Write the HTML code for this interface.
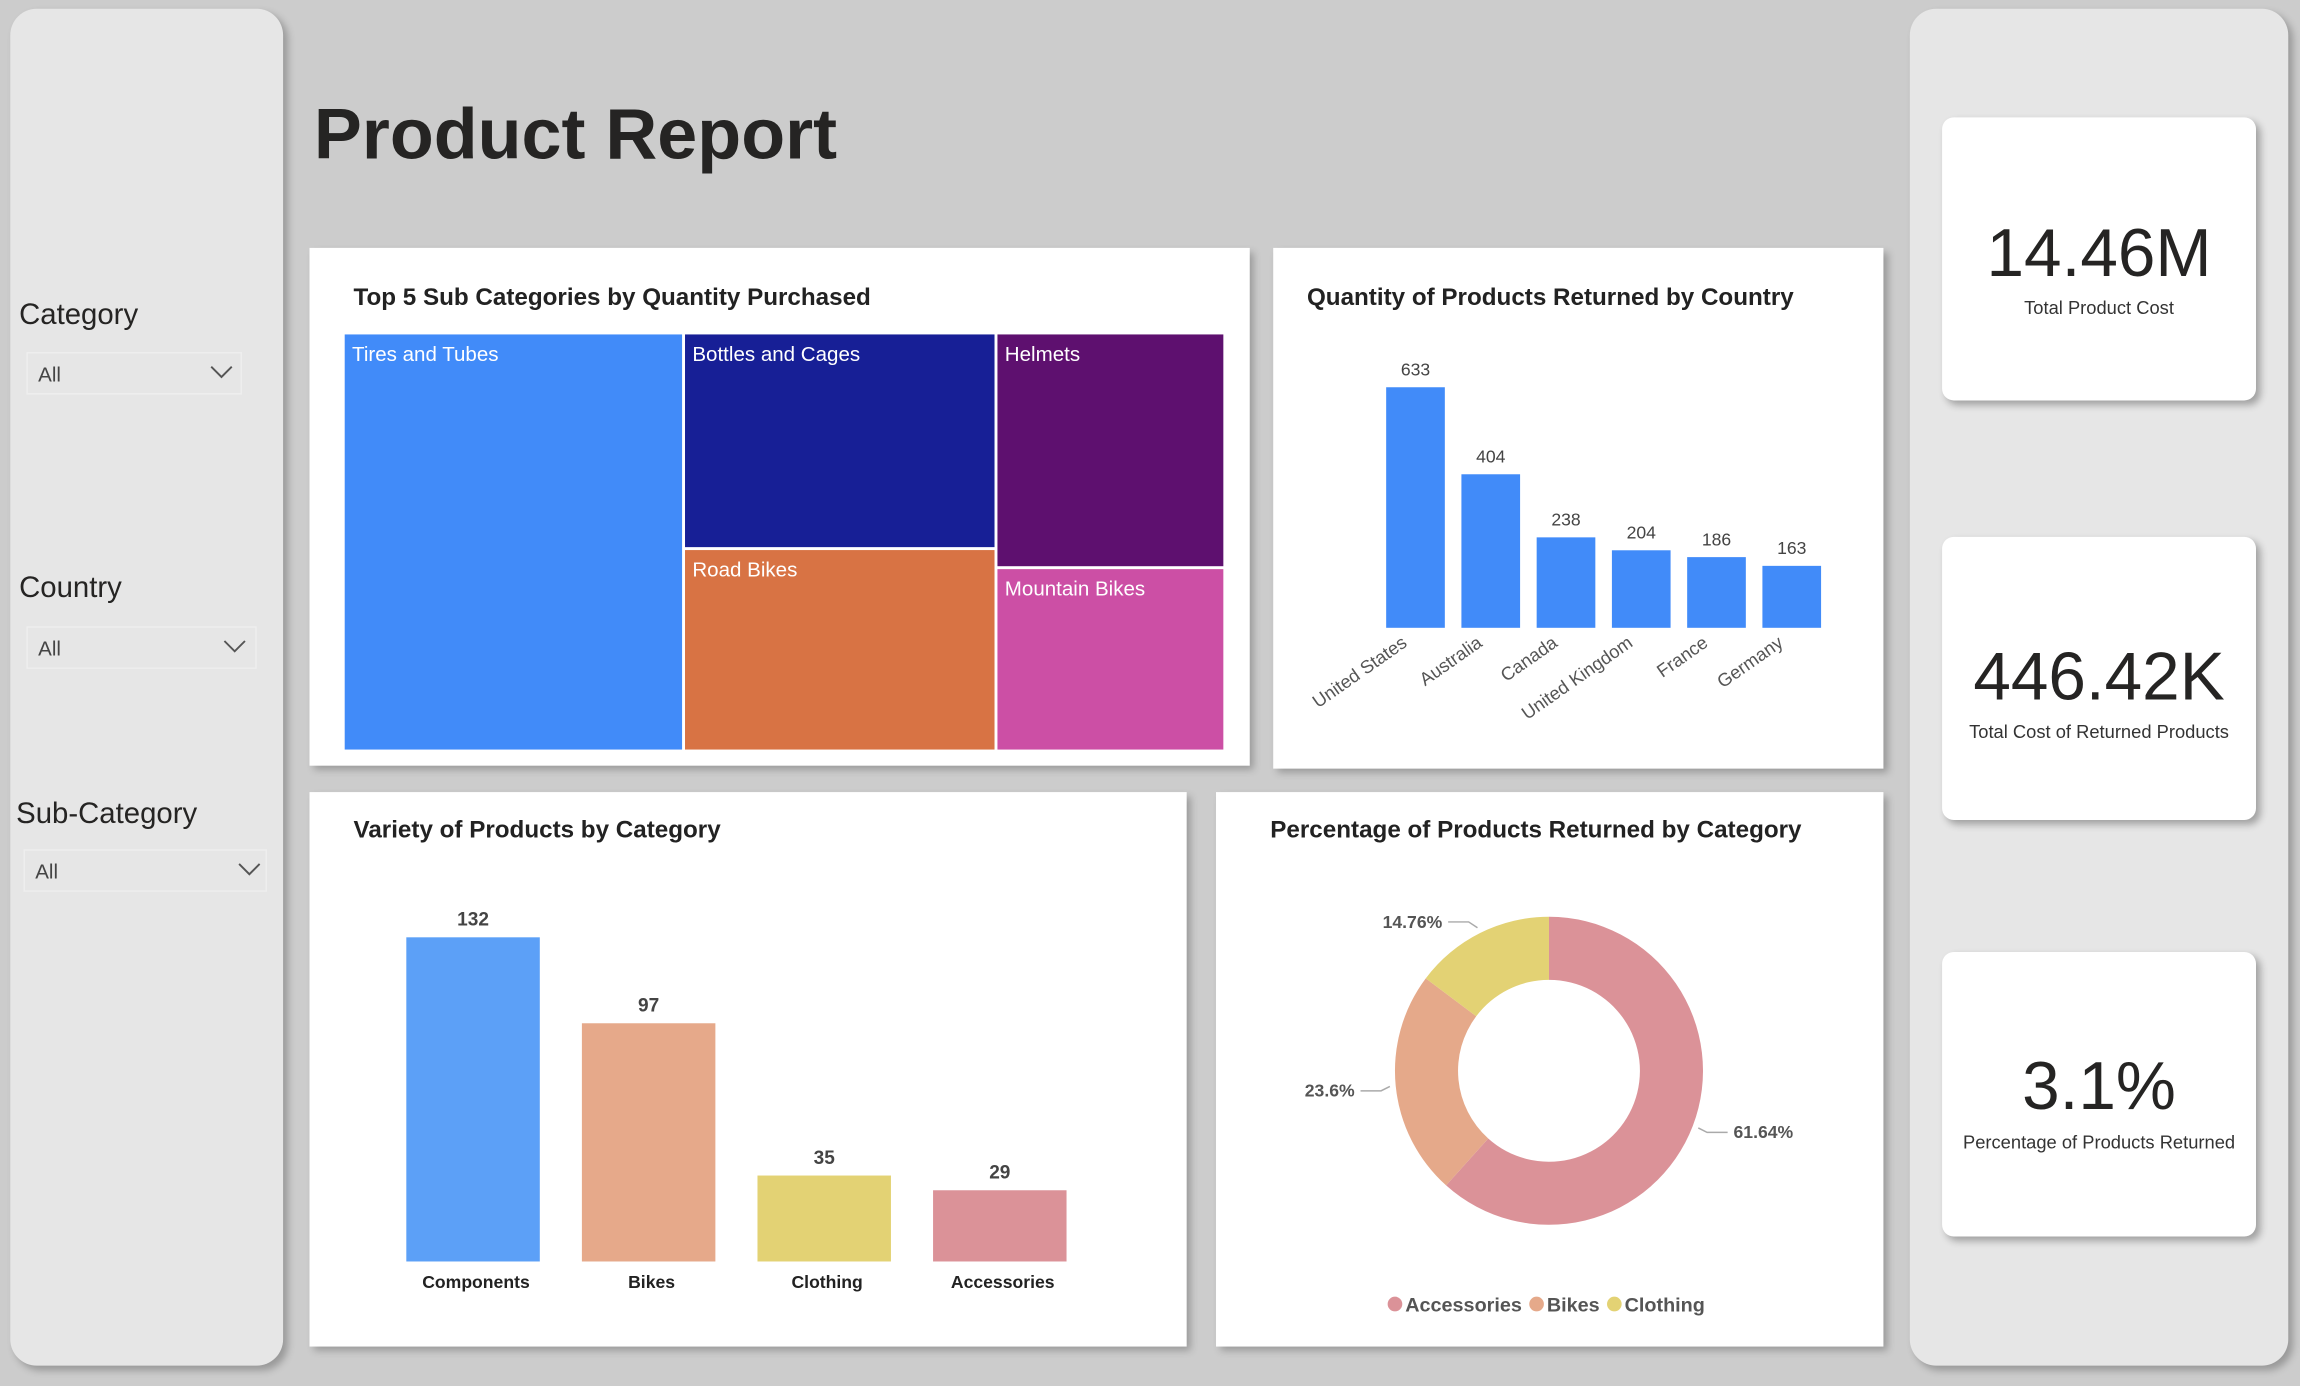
<!DOCTYPE html>
<html><head><meta charset="utf-8">
<style>
html,body{margin:0;padding:0;width:2300px;height:1386px;overflow:hidden;background:#cccccc;}
#root{position:absolute;left:0;top:0;width:1568px;height:945px;transform:scale(1.46684);transform-origin:0 0;font-family:"Liberation Sans",sans-serif;color:#252423;}
.abs{position:absolute;}
.panel{position:absolute;background:#e6e6e6;border-radius:18px;box-shadow:3px 3px 5px rgba(0,0,0,0.25);}
.card{position:absolute;background:#fff;box-shadow:3px 3px 5px rgba(0,0,0,0.25);}
.kpi{position:absolute;background:#fff;border-radius:8px;box-shadow:3px 3px 5px rgba(0,0,0,0.3);text-align:center;}
.kpi .v{position:absolute;left:0;right:0;font-size:46px;color:#252423;}
.kpi .l{position:absolute;left:0;right:0;font-size:12.5px;color:#333;}
.ctitle{position:absolute;font-weight:bold;font-size:16.5px;color:#222;}
.slab{position:absolute;font-size:20px;color:#252423;}
.dd{position:absolute;border:1px solid #eeeeee;background:#e6e6e6;font-size:14px;color:#444;}
.dd span{position:absolute;left:7px;top:6px;}
.dd svg{position:absolute;top:8px;}
.tm{position:absolute;color:#fff;font-size:14px;box-sizing:border-box;padding:5px 0 0 5px;}
</style></head>
<body>
<div id="root">
  <div class="panel" style="left:7px;top:6px;width:186px;height:925px;"></div>
  <div class="panel" style="left:1302px;top:6px;width:258px;height:925px;"></div>

  <div class="slab" style="left:13px;top:204px;">Category</div>
  <div class="dd" style="left:18px;top:240px;width:145px;height:27px;"><span>All</span><svg style="left:124px" width="16" height="10" viewBox="0 0 16 10"><polyline points="1,1 8,8 15,1" fill="none" stroke="#555" stroke-width="1.3"/></svg></div>
  <div class="slab" style="left:13px;top:390px;">Country</div>
  <div class="dd" style="left:18px;top:427px;width:155px;height:27px;"><span>All</span><svg style="left:133px" width="16" height="10" viewBox="0 0 16 10"><polyline points="1,1 8,8 15,1" fill="none" stroke="#555" stroke-width="1.3"/></svg></div>
  <div class="slab" style="left:11px;top:544px;">Sub-Category</div>
  <div class="dd" style="left:16px;top:579px;width:164px;height:27px;"><span>All</span><svg style="left:145px" width="16" height="10" viewBox="0 0 16 10"><polyline points="1,1 8,8 15,1" fill="none" stroke="#555" stroke-width="1.3"/></svg></div>

  <div class="abs" style="left:214px;top:64px;font-size:49px;font-weight:bold;color:#252423;">Product Report</div>

  <div class="card" style="left:211px;top:169px;width:641px;height:353px;"></div>
  <div class="ctitle" style="left:241px;top:194px;">Top 5 Sub Categories by Quantity Purchased</div>
  <div class="tm" style="left:235px;top:228px;width:230px;height:283px;background:#418bf9;">Tires and Tubes</div>
  <div class="tm" style="left:467px;top:228px;width:211px;height:145px;background:#171f96;">Bottles and Cages</div>
  <div class="tm" style="left:467px;top:375px;width:211px;height:136px;background:#d87344;">Road Bikes</div>
  <div class="tm" style="left:680px;top:228px;width:154px;height:158px;background:#5e106f;">Helmets</div>
  <div class="tm" style="left:680px;top:388px;width:154px;height:123px;background:#cc4fa5;">Mountain Bikes</div>

  <div class="card" style="left:868px;top:169px;width:416px;height:355px;"></div>
  <div class="ctitle" style="left:891px;top:194px;">Quantity of Products Returned by Country</div>
  <svg id="countrySvg" class="abs" style="left:0;top:0;" width="1568" height="945"></svg>

  <div class="card" style="left:211px;top:540px;width:598px;height:378px;"></div>
  <div class="ctitle" style="left:241px;top:557px;">Variety of Products by Category</div>
  <svg id="varietySvg" class="abs" style="left:0;top:0;" width="1568" height="945"></svg>

  <div class="card" style="left:829px;top:540px;width:455px;height:378px;"></div>
  <div class="ctitle" style="left:866px;top:557px;">Percentage of Products Returned by Category</div>
  <svg id="donutSvg" class="abs" style="left:0;top:0;" width="1568" height="945"></svg>

  <div class="kpi" style="left:1324px;top:80px;width:214px;height:193px;"><div class="v" style="top:65px;">14.46M</div><div class="l" style="top:123px;">Total Product Cost</div></div>
  <div class="kpi" style="left:1324px;top:366px;width:214px;height:193px;"><div class="v" style="top:68px;">446.42K</div><div class="l" style="top:126px;">Total Cost of Returned Products</div></div>
  <div class="kpi" style="left:1324px;top:649px;width:214px;height:194px;"><div class="v" style="top:64px;">3.1%</div><div class="l" style="top:123px;">Percentage of Products Returned</div></div>
</div>
<script>
const NS="http://www.w3.org/2000/svg";
function mk(parent,tag,attrs,text){const e=document.createElementNS(NS,tag);for(const k in attrs)e.setAttribute(k,attrs[k]);if(text!==undefined)e.textContent=text;parent.appendChild(e);return e;}

const countries=["United States","Australia","Canada","United Kingdom","France","Germany"];
const returnedQty=[633,404,238,204,186,163];

const categories=["Components","Bikes","Clothing","Accessories"];
const varietyCounts=[132,97,35,29];

const donutCats=["Accessories","Bikes","Clothing"];
const donutPct=[61.64,23.6,14.76];

(function(){
  const svg=document.getElementById('countrySvg');
  const base=428, x0=945, step=51.3, bw=40, maxH=164, maxV=633;
  const y=v=>base-v/maxV*maxH;
  returnedQty.forEach((v,i)=>{
    const x=x0+i*step;
    const r=mk(svg,'rect',{x:x,y:y(v),width:bw,height:base-y(v),fill:'#418bf9'});
    
    
    const t=mk(svg,'text',{x:x+bw/2,y:y(v)-8,'text-anchor':'middle','font-size':12,fill:'#444','font-family':'Liberation Sans'},String(v));
    
    
    const cx=x+bw/2-5, cy=base+12;
    const l=mk(svg,'text',{x:cx,y:cy,'text-anchor':'end','font-size':12.5,fill:'#555','font-family':'Liberation Sans',transform:`rotate(-35 ${cx} ${cy})`},countries[i]);
    
    
  });
})();

(function(){
  const svg=document.getElementById('varietySvg');
  const base=860, x0=277, step=119.7, bw=91, maxH=221, maxV=132;
  const colors=['#5ca0f7','#e6a98a','#e3d274','#db9298'];
  const y=v=>base-v/maxV*maxH;
  varietyCounts.forEach((v,i)=>{
    const x=x0+i*step;
    const r=mk(svg,'rect',{x:x,y:y(v),width:bw,height:base-y(v),fill:colors[i]});
    
    
    const t=mk(svg,'text',{x:x+bw/2,y:y(v)-8,'text-anchor':'middle','font-size':13,'font-weight':'bold',fill:'#444','font-family':'Liberation Sans'},String(v));
    
    
    const l=mk(svg,'text',{x:x+bw/2+2,y:base+18,'text-anchor':'middle','font-size':12,'font-weight':'bold',fill:'#222','font-family':'Liberation Sans'},categories[i]);
    
    
  });
})();

(function(){
  const svg=document.getElementById('donutSvg');
  const cx=1056, cy=730, R=105, r=62;
  const colors=['#db9298','#e5a98a','#e3d274'];
  const total=donutPct.reduce((a,b)=>a+b,0);
  let a0=0;
  const pt=(a,rad)=>[cx+rad*Math.sin(a),cy-rad*Math.cos(a)];
  donutPct.forEach((v,i)=>{
    const a1=a0+v/total*2*Math.PI;
    const [x1,y1]=pt(a0,R),[x2,y2]=pt(a1,R),[x3,y3]=pt(a1,r),[x4,y4]=pt(a0,r);
    const lg=(a1-a0)>Math.PI?1:0;
    const p=mk(svg,'path',{d:`M${x1},${y1} A${R},${R} 0 ${lg} 1 ${x2},${y2} L${x3},${y3} A${r},${r} 0 ${lg} 0 ${x4},${y4} Z`,fill:colors[i]});
    
    
    const am=(a0+a1)/2;
    const [lx,ly]=pt(am,R+4);
    const right=Math.sin(am)>=0;
    const ex=right?lx+20:lx-20;
    const yy=ly+(Math.cos(am)>0?-4:3);
    mk(svg,'polyline',{points:`${lx},${ly} ${lx+(right?6:-6)},${yy} ${ex},${yy}`,fill:'none',stroke:'#aaa','stroke-width':1});
    const t=mk(svg,'text',{x:right?ex+4:ex-4,y:yy+4,'text-anchor':right?'start':'end','font-size':12,'font-weight':'bold',fill:'#555','font-family':'Liberation Sans'},donutPct[i]+'%');
    
    
    a0=a1;
  });
  let lx=946;
  donutCats.forEach((c,i)=>{
    const g=mk(svg,'g',{});
    
    
    mk(g,'circle',{cx:lx+5,cy:889,r:5,fill:colors[i]});
    const t=mk(g,'text',{x:lx+12,y:894,'font-size':13.5,'font-weight':'bold',fill:'#555','font-family':'Liberation Sans'},c);
    lx+=12+t.getComputedTextLength()+5;
  });
})();
</script>
</body></html>
